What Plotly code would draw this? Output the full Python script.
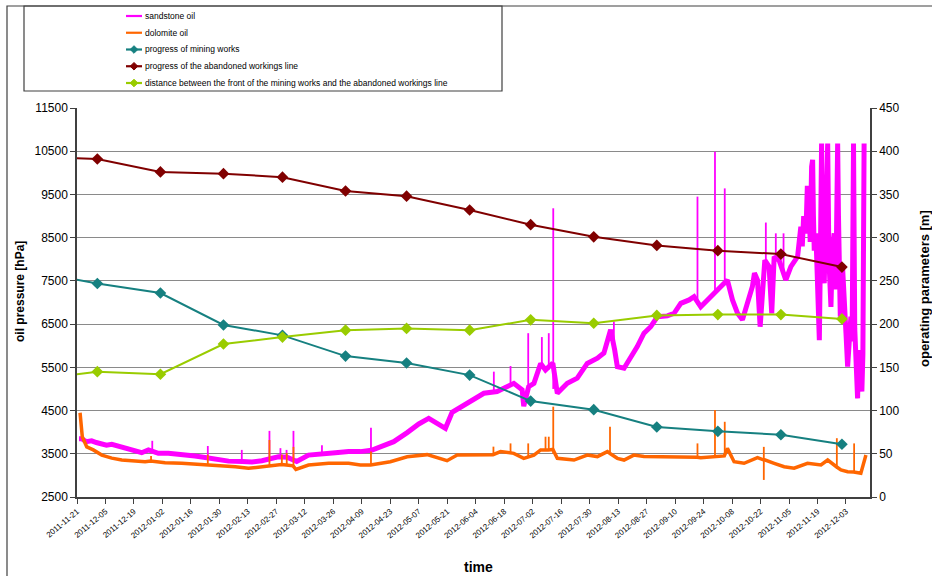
import pandas as pd
import plotly.graph_objects as go

START = pd.Timestamp("2011-11-21")

# ---- oil pressure records [hPa]; x is days since 2011-11-21 ----
# main band of the sandstone oil record
sandstone_day = [
    1.0, 2.3, 4.5, 7.2, 9.5, 12.2, 14.5, 17.1, 19.5, 22.0, 24.5, 26.9, 29.5, 31.8, 35.1,
    37.3, 40.0, 44.9, 51.5, 58.0, 62.2, 67.9, 74.5, 81.2, 86.0, 90.9, 94.4, 99.0, 103.3,
    106.2, 108.0, 113.8, 120.6, 127.0, 133.5, 139.3, 144.7, 149.1, 155.7, 162.3, 168.0,
    172.9, 177.0, 181.1, 184.4, 190.1, 195.9, 200.0, 206.5, 209.8, 214.7, 218.8, 219.6,
    222.0, 224.6, 227.9, 230.3, 233.9, 236.1, 241.0, 245.9, 250.8, 255.8, 259.0, 262.3,
    264.3, 265.6, 268.9, 272.1, 275.4, 278.7, 282.0, 285.3, 290.2, 293.5, 296.8, 300.9,
    303.3, 306.6, 309.9, 312.4, 316.4, 319.7, 322.2, 324.7, 327.1, 329.6, 332.0, 333.0,
    334.5, 335.8, 338.1, 340.2, 341.5, 342.7, 345.1, 348.4, 350.9, 354.2,
    355.8, 356.5, 357.2, 358.3, 359.0, 359.9, 360.4, 361.1, 361.6, 362.0, 362.4, 363.2,
    364.0, 364.9, 365.4, 366.0, 366.5, 367.3, 368.0, 369.0, 369.6, 370.6, 371.3, 372.2,
    373.0, 373.9, 374.3, 375.2, 376.3, 377.0, 378.0, 378.8, 379.5, 380.4, 381.0, 381.7,
    382.3, 382.9, 383.7, 384.3, 385.0, 385.8, 386.3, 386.9,
]
sandstone_hpa = [
    3850, 3850, 3780, 3800, 3760, 3740, 3700, 3720, 3690, 3650, 3620, 3590, 3560, 3525, 3590,
    3540, 3510, 3510, 3490, 3450, 3420, 3370, 3330, 3320, 3310, 3340, 3380, 3430, 3420,
    3360, 3320, 3470, 3510, 3525, 3550, 3550, 3580, 3660, 3780, 3990, 4190,
    4320, 4210, 4090, 4460, 4630, 4780, 4900, 4940, 5015, 5130, 4980, 4600,
    5050, 5130, 5590, 5440, 5600, 4900, 5130, 5250, 5590, 5710, 5830, 6370,
    5900, 5515, 5480, 5710, 5980, 6290, 6440, 6670, 6690, 6750, 6980, 7060,
    7135, 6900, 7060, 7175, 7370, 7520, 7060, 6750, 6600, 6980, 7370, 7680,
    7520, 6440, 7980, 7830, 6750, 8060, 7980, 7520, 7830, 8060,
    8755, 8300, 9000, 8600, 9700, 9220, 8400, 10140, 10300, 9000, 8200, 8600,
    7600, 6130, 8000, 10680, 8200, 7445, 8800, 10680, 8000, 6900, 8200, 8600,
    7300, 10680, 9000, 6670, 7830, 6900, 6290, 5515, 6300, 6670, 6100, 10680,
    6400, 5280, 4780, 5900, 5670, 4940, 5800, 10680,
]
# short pressure spikes of the sandstone oil: day, level at foot, level at top
sandstone_spike_day = [37.0, 64.3, 81.0, 94.6, 100.0, 103.0, 106.4, 120.4, 144.5, 204.9,
                       213.1, 221.8, 228.5, 231.9, 234.1, 263.9, 305.0, 313.6, 318.4,
                       338.6, 343.5, 347.3]
sandstone_spike_low = [3540, 3420, 3320, 3380, 3430, 3420, 3330, 3500, 3560, 4900,
                       5100, 5000, 5600, 5450, 5000, 5900, 6950, 7200, 7400,
                       7900, 7950, 7700]
sandstone_spike_high = [3800, 3680, 3590, 4030, 3630, 3590, 4030, 3700, 4100, 5400,
                        5530, 6290, 6200, 6290, 9180, 6560, 9450, 10490, 9640,
                        8850, 8600, 8600]

# main band of the dolomite oil record
dolomite_day = [
    1.5, 2.6, 4.8, 8.0, 12.2, 17.1, 22.0, 28.5, 33.5, 36.2, 39.2, 43.3, 51.5, 59.7, 64.1,
    69.5, 77.8, 84.3, 90.9, 94.4, 97.4, 100.5, 102.9, 106.2, 107.6, 113.8, 123.7, 133.5,
    139.3, 144.3, 154.0, 162.3, 172.1, 178.6, 181.9, 186.9, 195.0, 200.0, 204.5, 208.2,
    212.9, 214.7, 219.6, 221.6, 224.6, 227.9, 230.1, 231.7, 233.9, 236.1, 244.3, 250.8,
    255.8, 260.7, 262.2, 265.6, 268.9, 273.7, 278.7, 290.2, 304.8, 306.6, 313.4, 318.2,
    319.7, 323.0, 327.9, 334.5, 337.4, 338.0, 342.7, 347.6, 352.5, 359.1, 365.7, 369.0,
    373.3, 375.5, 378.8, 381.8, 385.3, 387.8,
]
dolomite_hpa = [
    4450, 3895, 3660, 3590, 3470, 3400, 3355, 3335, 3315, 3330, 3315, 3295, 3280, 3255, 3250,
    3225, 3200, 3165, 3200, 3220, 3240, 3250, 3240, 3220, 3140, 3240, 3280, 3280,
    3240, 3240, 3315, 3430, 3480, 3395, 3340, 3470, 3470, 3460, 3480, 3550,
    3520, 3510, 3395, 3420, 3470, 3590, 3580, 3590, 3600, 3395, 3355, 3470,
    3435, 3550, 3500, 3395, 3355, 3470, 3435, 3435, 3420, 3410, 3430, 3450,
    3625, 3315, 3280, 3410, 3360, 3360, 3280, 3200, 3165, 3280, 3240, 3355,
    3200, 3125, 3085, 3080, 3050, 3470,
]
dolomite_spike_day = [36.4, 64.3, 94.6, 100.7, 103.1, 106.4, 144.5, 204.7, 213.1, 221.8,
                      230.3, 231.9, 234.1, 262.0, 305.0, 313.6, 318.4, 337.6, 373.5, 382.0]
dolomite_spike_low = [3320, 3245, 3220, 3250, 3230, 3180, 3240, 3480, 3520, 3420,
                      3580, 3590, 3500, 3500, 3420, 3430, 3450, 2895, 3150, 3070]
dolomite_spike_high = [3450, 3480, 3820, 3480, 3520, 3660, 3550, 3665, 3740, 3740,
                       3895, 3895, 4590, 4125, 3740, 4510, 4240, 3660, 3860, 3740]

# ---- monthly operating parameters [m] ----
month_dates = [
    "2011-11-01", "2011-12-01", "2012-01-01", "2012-02-01", "2012-03-01", "2012-04-01",
    "2012-05-01", "2012-06-01", "2012-07-01", "2012-08-01", "2012-09-01", "2012-10-01",
    "2012-11-01", "2012-12-01",
]
mining_m = [260, 247, 236, 199, 187, 163, 155, 141, 111, 101, 81, 76, 72, 61]
abandoned_m = [394, 391, 376, 374, 370, 354, 348, 332, 315, 301, 291, 285, 281, 266]
distance_m = [136, 145, 142, 177, 185, 193, 195, 193, 205, 201, 210, 211, 211, 206]

tick_labels = [
    "2011-11-21", "2011-12-05", "2011-12-19", "2012-01-02", "2012-01-16", "2012-01-30",
    "2012-02-13", "2012-02-27", "2012-03-12", "2012-03-26", "2012-04-09", "2012-04-23",
    "2012-05-07", "2012-05-21", "2012-06-04", "2012-06-18", "2012-07-02", "2012-07-16",
    "2012-07-30", "2012-08-13", "2012-08-27", "2012-09-10", "2012-09-24", "2012-10-08",
    "2012-10-22", "2012-11-05", "2012-11-19", "2012-12-03",
]
x_end_days = 389.8

SANDSTONE = "#ff00ff"
DOLOMITE = "#ff6600"
MINING = "#168080"
ABANDONED = "#800000"
DISTANCE = "#99cc00"


def to_dates(days):
    return [START + pd.Timedelta(days=d) for d in days]


def spike_xy(days, lows, highs):
    xs, ys = [], []
    for d, lo, hi in zip(days, lows, highs):
        t = START + pd.Timedelta(days=d)
        xs += [t, t, None]
        ys += [lo, hi, None]
    return xs, ys


FONT = "Liberation Sans, Arial, sans-serif"

fig = go.Figure()

for name, days, vals, sd, slo, shi, color, width in [
    ("sandstone oil", sandstone_day, sandstone_hpa, sandstone_spike_day,
     sandstone_spike_low, sandstone_spike_high, SANDSTONE, 5),
    ("dolomite oil", dolomite_day, dolomite_hpa, dolomite_spike_day,
     dolomite_spike_low, dolomite_spike_high, DOLOMITE, 3.5),
]:
    fig.add_trace(go.Scatter(
        x=to_dates(days), y=vals, name=name, mode="lines", yaxis="y",
        line=dict(color=color, width=width), legendgroup=name,
    ))
    sx, sy = spike_xy(sd, slo, shi)
    fig.add_trace(go.Scatter(
        x=sx, y=sy, name=name, mode="lines", yaxis="y", showlegend=False,
        line=dict(color=color, width=1.8), legendgroup=name, connectgaps=False,
    ))

month_x = pd.to_datetime(month_dates)
params = [
    ("progress of mining works", mining_m, MINING),
    ("progress of the abandoned workings line", abandoned_m, ABANDONED),
    ("distance between the front of the mining works and the abandoned workings line",
     distance_m, DISTANCE),
]
for name, vals, color in params:
    fig.add_trace(go.Scatter(
        x=month_x, y=vals, name=name, mode="lines+markers", yaxis="y2",
        line=dict(color=color, width=2),
        marker=dict(symbol="diamond", size=9, color=color),
    ))

# plot area in pixels: x 77..870, y 108..497
PL, PR, PT, PB = 77, 870, 108, 497
W, H = 932, 576


def px(xp):
    return (xp - PL) / (PR - PL)


def py(yp):
    return (PB - yp) / (PB - PT)


shapes = [
    # chart frame
    dict(type="rect", xref="paper", yref="paper",
         x0=px(7), x1=px(960), y0=py(600), y1=py(6),
         line=dict(color="#404040", width=1.2), layer="below"),
    # legend box
    dict(type="rect", xref="paper", yref="paper",
         x0=px(24), x1=px(502), y0=py(91), y1=py(6),
         line=dict(color="#404040", width=1.2), layer="below"),
]
annotations = [
    dict(text="<b>oil pressure [hPa]</b>", xref="paper", yref="paper",
         x=px(20), y=py(292), textangle=-90, showarrow=False,
         font=dict(size=12), xanchor="center", yanchor="middle"),
    dict(text="<b>operating parameters [m]</b>", xref="paper", yref="paper",
         x=px(924), y=py(288), textangle=-90, showarrow=False,
         font=dict(size=13), xanchor="center", yanchor="middle"),
    dict(text="<b>time</b>", xref="paper", yref="paper",
         x=px(478), y=py(567), showarrow=False,
         font=dict(size=14), xanchor="center", yanchor="middle"),
]

# legend entries drawn inside the legend box
legend_items = [("sandstone oil", SANDSTONE, False), ("dolomite oil", DOLOMITE, False)] + \
    [(n, c, True) for n, _, c in params]
for i, (label, color, has_marker) in enumerate(legend_items):
    yc = 16 + i * 16.75
    shapes.append(dict(type="line", xref="paper", yref="paper",
                       x0=px(126), x1=px(142), y0=py(yc), y1=py(yc),
                       line=dict(color=color, width=2.2)))
    if has_marker:
        cx, r = 134, 3.8
        path = (f"M {px(cx)},{py(yc - r)} L {px(cx + r)},{py(yc)} "
                f"L {px(cx)},{py(yc + r)} L {px(cx - r)},{py(yc)} Z")
        shapes.append(dict(type="path", xref="paper", yref="paper", path=path,
                           fillcolor=color, line=dict(color=color, width=1)))
    annotations.append(dict(text=label, xref="paper", yref="paper",
                            x=px(143), y=py(yc), xanchor="left", yanchor="middle",
                            showarrow=False, font=dict(size=8.5, family=FONT)))

fig.update_layout(
    width=W, height=H,
    margin=dict(l=PL, r=W - PR, t=PT, b=H - PB, pad=0),
    paper_bgcolor="white", plot_bgcolor="white",
    font=dict(family=FONT, size=12, color="black"),
    showlegend=False,
    xaxis=dict(
        type="date",
        range=[START, START + pd.Timedelta(days=x_end_days)],
        tickvals=pd.to_datetime(tick_labels), ticktext=tick_labels,
        tickangle=-40, tickfont=dict(size=8, family=FONT),
        ticks="outside", ticklen=5, tickcolor="#404040",
        showline=True, linecolor="#404040", linewidth=1.5,
        showgrid=False, zeroline=False,
    ),
    yaxis=dict(
        range=[2500, 11500], tick0=2500, dtick=1000, tickformat="d",
        ticks="outside", ticklen=5, tickcolor="#404040",
        showline=True, linecolor="#404040", linewidth=1.5,
        showgrid=True, gridcolor="#8a8a8a", gridwidth=1,
        zeroline=False, tickfont=dict(size=12),
    ),
    yaxis2=dict(
        range=[0, 450], tick0=0, dtick=50, overlaying="y", side="right",
        ticks="outside", ticklen=5, tickcolor="#404040",
        showline=True, linecolor="#404040", linewidth=1.5,
        showgrid=False, zeroline=False, tickfont=dict(size=12),
    ),
    shapes=shapes,
    annotations=annotations,
)

fig.write_html("out.html")
